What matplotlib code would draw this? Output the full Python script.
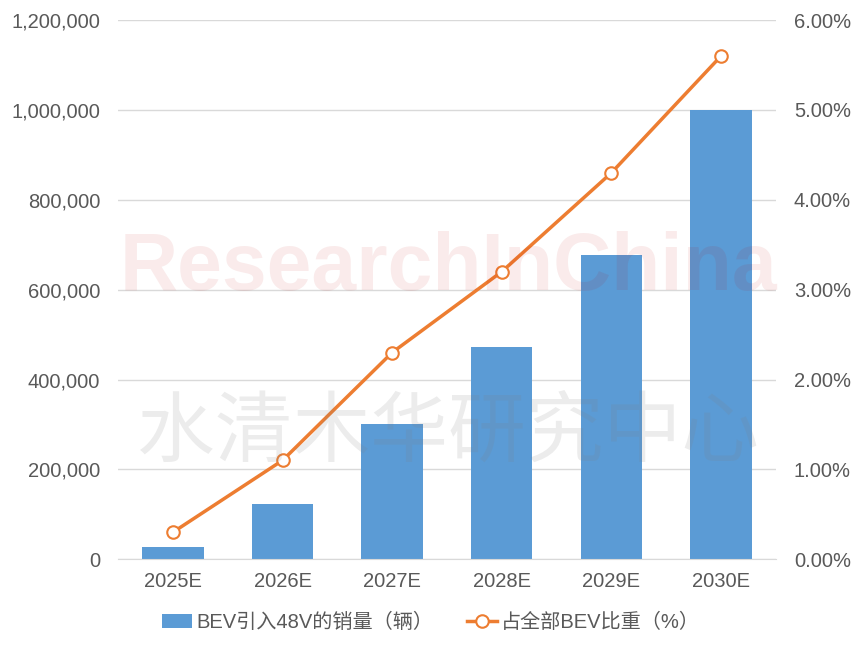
import matplotlib
matplotlib.use("Agg")
import matplotlib.pyplot as plt
from matplotlib.ticker import FuncFormatter, MultipleLocator

plt.rcParams['font.family'] = ['Liberation Sans', 'Noto Sans CJK SC', 'DejaVu Sans']

years = ["2025E", "2026E", "2027E", "2028E", "2029E", "2030E"]
sales = [27000, 122000, 302000, 473000, 678000, 1000000]
share = [0.30, 1.10, 2.30, 3.20, 4.30, 5.60]

bar_label = "BEV引入48V的销量（辆）"
line_label = "占全部BEV比重（%）"

blue = "#5B9BD5"
orange = "#ED7D31"
grey = "#595959"

fig = plt.figure(figsize=(8.62, 6.48), dpi=100)
ax = fig.add_axes([0.137, 0.137, 0.763, 0.832])
ax2 = ax.twinx()

x = list(range(len(years)))
bars = ax.bar(x, sales, width=0.56, color=blue, label=bar_label, zorder=2)
ax.set_ylim(0, 1200000)
ax.set_xlim(-0.5, len(years) - 0.5)
ax.yaxis.set_major_locator(MultipleLocator(200000))
ax.yaxis.set_major_formatter(FuncFormatter(lambda v, p: f"{int(v):,}"))
ax.set_xticks(x)
ax.set_xticklabels(years)
ax.grid(axis="y", color="#D9D9D9", linewidth=1, zorder=0)
ax.set_axisbelow(True)

line, = ax2.plot(x, share, color=orange, linewidth=2.5, marker="o", markersize=9,
                 markerfacecolor="white", markeredgecolor=orange, markeredgewidth=1.5,
                 label=line_label, zorder=3)
ax2.set_ylim(0, 6)
ax2.yaxis.set_major_locator(MultipleLocator(1))
ax2.yaxis.set_major_formatter(FuncFormatter(lambda v, p: f"{v:.2f}%"))

for a in (ax, ax2):
    for s in a.spines.values():
        s.set_visible(False)
    a.tick_params(length=0, labelsize=14.5, colors=grey, pad=13)
ax.spines["bottom"].set_visible(True)
ax.spines["bottom"].set_color("#D9D9D9")
ax.tick_params(axis="x", pad=9)

# watermark
fig.text(0.52, 0.585, "ResearchInChina", fontsize=58, fontweight="bold", color="#C00000",
         alpha=0.08, ha="center", va="center",
         family=['Liberation Sans Narrow', 'Liberation Sans'], zorder=10)
fig.text(0.52, 0.329, "水清木华研究中心", fontsize=56, color="#808080", alpha=0.15,
         ha="center", va="center", family=['Noto Sans CJK SC'], zorder=10)

fig.legend([bars, line], [bar_label, line_label], loc="center", bbox_to_anchor=(0.5, 0.04),
           ncol=2, frameon=False, fontsize=14.5, labelcolor=grey, handlelength=1.5,
           handletextpad=0.2, columnspacing=1.7)

fig.savefig("out.png", dpi=100)
